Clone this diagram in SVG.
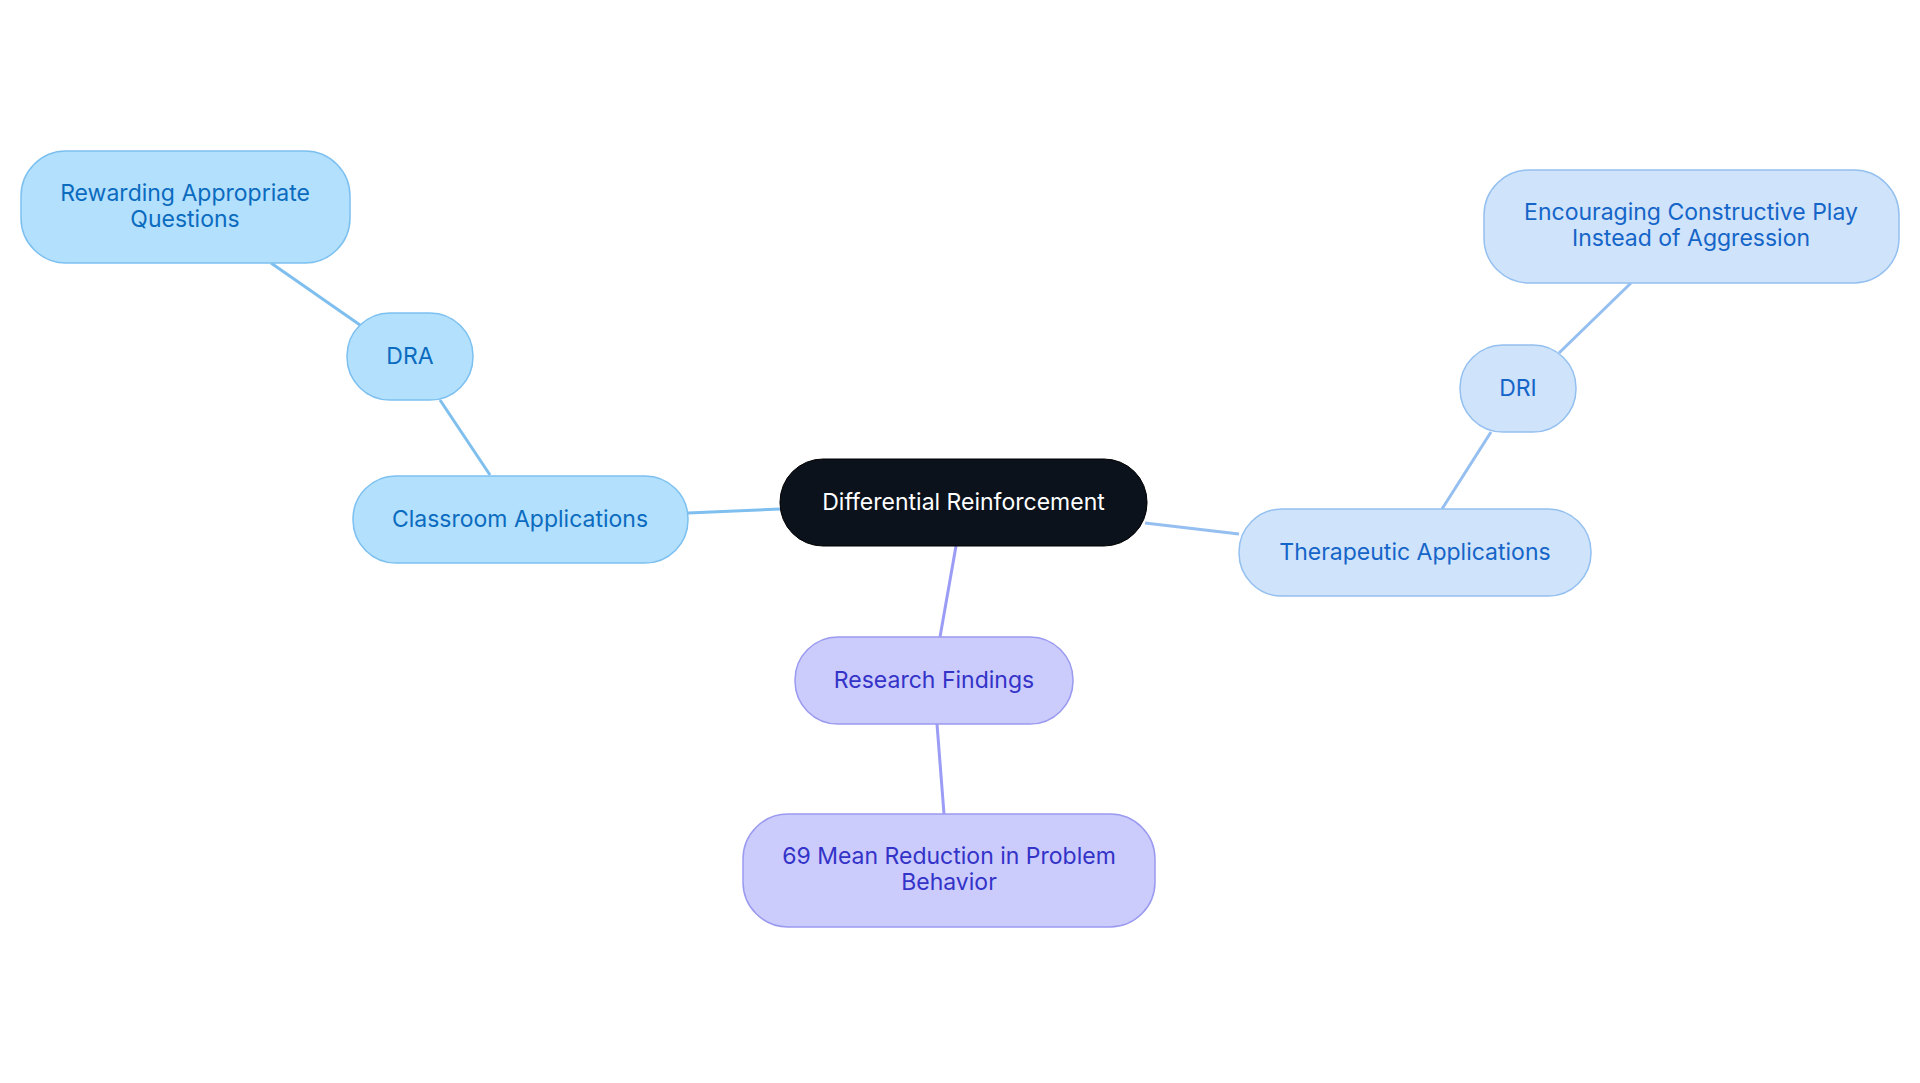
<svg xmlns="http://www.w3.org/2000/svg" width="1920" height="1083" viewBox="0 0 1920 1083">
<style>
text{font-family:Inter,"Noto Sans",sans-serif;font-size:23px;text-anchor:middle;dominant-baseline:central}
.a rect{fill:#b3e0fd;stroke:#7cc0f0;stroke-width:1.5}.a text{fill:#0b6bbf}
.b rect{fill:#cfe3fb;stroke:#94c0f0;stroke-width:1.5}.b text{fill:#1565c8}
.c rect{fill:#cbcbfc;stroke:#9a9af0;stroke-width:1.5}.c text{fill:#3333c8}
#edges line{stroke-width:3}
</style>
<rect width="1920" height="1083" fill="#fff"/>
<g id="edges">
<line x1="780" y1="509" x2="688" y2="513" stroke="#7fbfef"/>
<line x1="490" y1="475" x2="440" y2="400" stroke="#7fbfef"/>
<line x1="271" y1="263" x2="360" y2="325" stroke="#7fbfef"/>
<line x1="1145" y1="523" x2="1239" y2="534" stroke="#94bff0"/>
<line x1="1442" y1="509" x2="1491" y2="432" stroke="#94bff0"/>
<line x1="1559" y1="353" x2="1631" y2="283" stroke="#94bff0"/>
<line x1="956" y1="546" x2="940" y2="637" stroke="#9b9cf5"/>
<line x1="937" y1="724" x2="944" y2="814" stroke="#9b9cf5"/>
</g>
<g id="center"><rect x="780" y="459" width="367" height="87" rx="43" fill="#0b121c" stroke="#000"/><text x="963.5" y="502" fill="#fff">Differential Reinforcement</text></g>
<g id="classroom" class="a"><rect x="353" y="476" width="335" height="87" rx="43"/><text x="520" y="519">Classroom Applications</text></g>
<g id="dra" class="a"><rect x="347" y="313" width="126" height="87" rx="43"/><text x="410" y="356">DRA</text></g>
<g id="rewarding" class="a"><rect x="21" y="151" width="329" height="112" rx="45"/><text x="185" y="193">Rewarding Appropriate</text><text x="185" y="219">Questions</text></g>
<g id="therapeutic" class="b"><rect x="1239" y="509" width="352" height="87" rx="43"/><text x="1415" y="552">Therapeutic Applications</text></g>
<g id="dri" class="b"><rect x="1460" y="345" width="116" height="87" rx="43"/><text x="1518" y="388">DRI</text></g>
<g id="encouraging" class="b"><rect x="1484" y="170" width="415" height="113" rx="45"/><text x="1691" y="212">Encouraging Constructive Play</text><text x="1691" y="238">Instead of Aggression</text></g>
<g id="research" class="c"><rect x="795" y="637" width="278" height="87" rx="43"/><text x="934" y="680">Research Findings</text></g>
<g id="reduction" class="c"><rect x="743" y="814" width="412" height="113" rx="45"/><text x="949" y="856">69 Mean Reduction in Problem</text><text x="949" y="882">Behavior</text></g>
</svg>
